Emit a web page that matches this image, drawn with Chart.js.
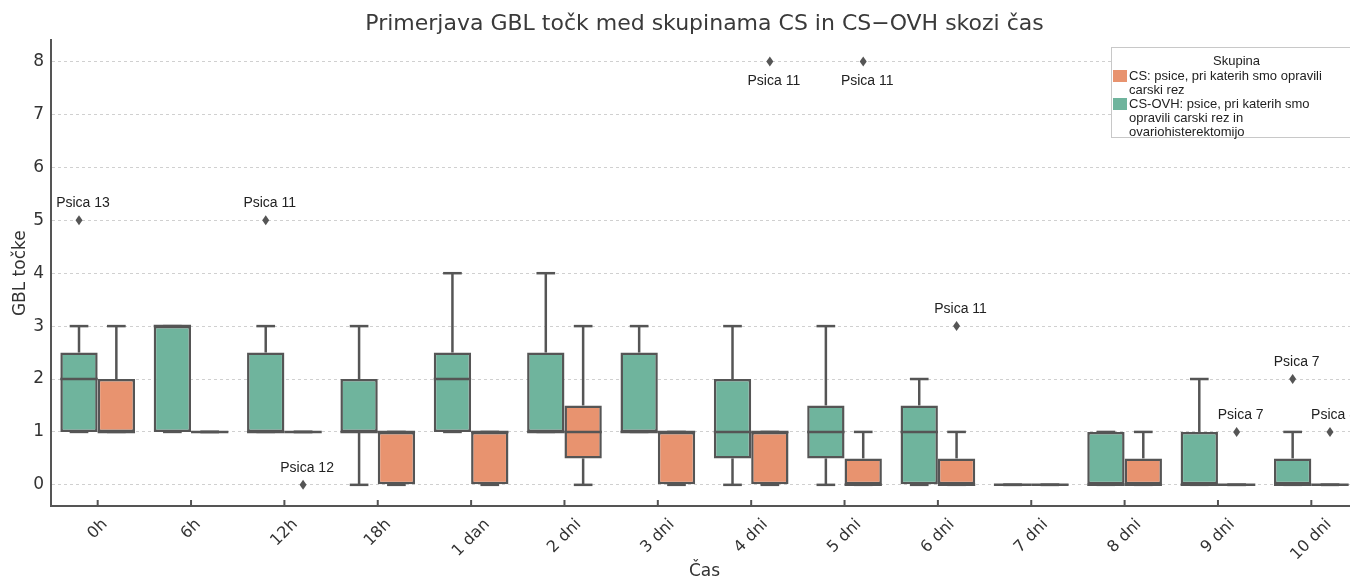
<!DOCTYPE html>
<html>
<head>
<meta charset="utf-8">
<script src="https://cdn.jsdelivr.net/npm/chart.js@4.4.0/dist/chart.umd.min.js"></script>
<style>
  html, body { margin: 0; padding: 0; background: #fff; overflow: hidden; }
  #wrap { position: relative; width: 1360px; height: 580px; }
  #legend {
    position: absolute; left: 1111px; top: 47px; width: 250px; height: 91px;
    border: 1px solid #c8c8c8; background: #fff; box-sizing: border-box;
    font-family: "Liberation Sans", Arial, sans-serif; font-size: 13px; line-height: 14px; color: #222;
    padding: 6px 0 0 1px;
  }
  #legend .ltitle { text-align: center; margin-bottom: 1px; }
  #legend .item { display: flex; align-items: flex-start; }
  #legend .sw { width: 14px; height: 12px; flex: none; margin: 1px 2px 0 0; }
  #legend .txt { width: 196px; }
</style>
</head>
<body>
<div id="wrap">
  <canvas id="chart" width="1360" height="580"></canvas>
  <div id="legend"></div>
</div>
<script>
const categories = ["0h", "6h", "12h", "18h", "1 dan", "2 dni", "3 dni", "4 dni", "5 dni", "6 dni", "7 dni", "8 dni", "9 dni", "10 dni"];
const yTicks = [0, 1, 2, 3, 4, 5, 6, 7, 8];

// CS-OVH (zelena)
const ovhMin = [1, 1, 1, 0, 1, 1, 1, 0, 0, 0, 0, 0, 0, 0];
const ovhQ1 = [1, 1, 1, 1, 1, 1, 1, 0.5, 0.5, 0, 0, 0, 0, 0];
const ovhMedian = [2, 3, 1, 1, 2, 1, 1, 1, 1, 1, 0, 0, 0, 0];
const ovhQ3 = [2.5, 3, 2.5, 2, 2.5, 2.5, 2.5, 2, 1.5, 1.5, 0, 1, 1, 0.5];
const ovhMax = [3, 3, 3, 3, 4, 4, 3, 3, 3, 2, 0, 1, 2, 1];

// CS (oranžna)
const csMin = [1, 1, 1, 0, 0, 0, 0, 0, 0, 0, 0, 0, 0, 0];
const csQ1 = [1, 1, 1, 0, 0, 0.5, 0, 0, 0, 0, 0, 0, 0, 0];
const csMedian = [1, 1, 1, 1, 1, 1, 1, 1, 0, 0, 0, 0, 0, 0];
const csQ3 = [2, 1, 1, 1, 1, 1.5, 1, 1, 0.5, 0.5, 0, 0.5, 0, 0];
const csMax = [3, 1, 1, 1, 1, 3, 1, 1, 1, 1, 0, 1, 0, 0];

// izstopajoče vrednosti (0 = CS-OVH, 1 = CS)
const outlierSeries = [0, 0, 1, 1, 1, 1, 1, 0, 1];
const outlierCategory = ["0h", "12h", "12h", "4 dni", "5 dni", "6 dni", "9 dni", "10 dni", "10 dni"];
const outlierValue = [5, 5, 0, 8, 8, 3, 1, 2, 1];
const outlierLabel = ["Psica 13", "Psica 11", "Psica 12", "Psica 11", "Psica 11", "Psica 11", "Psica 7", "Psica 7", "Psica 8"];

const seriesNames = ["CS-OVH: psice, pri katerih smo opravili carski rez in ovariohisterektomijo", "CS: psice, pri katerih smo opravili carski rez"];
const GREEN = "#6fb49d";
const ORANGE = "#e8936f";
const LINE = "#555555";

const stats = [
  { min: ovhMin, q1: ovhQ1, med: ovhMedian, q3: ovhQ3, max: ovhMax },
  { min: csMin, q1: csQ1, med: csMedian, q3: csQ3, max: csMax },
];

function renderLegend() {
  const box = document.getElementById("legend");
  box.innerHTML = '<div class="ltitle">Skupina</div>';
  [1, 0].forEach((s) => {
    const item = document.createElement("div");
    item.className = "item";
    item.innerHTML = `<span class="sw" style="background:${s ? ORANGE : GREEN}"></span><span class="txt">${seriesNames[s]}</span>`;
    box.appendChild(item);
  });
}

const boxDetails = {
  id: "boxDetails",
  afterDatasetsDraw(chart) {
    const ctx = chart.ctx;
    const yS = chart.scales.y;
    const xS = chart.scales.x;
    const line = (x1, y1, x2, y2) => {
      ctx.beginPath();
      ctx.moveTo(x1, y1);
      ctx.lineTo(x2, y2);
      ctx.stroke();
    };
    ctx.save();
    ctx.strokeStyle = LINE;
    ctx.lineWidth = 2.5;
    stats.forEach((s, d) => {
      chart.getDatasetMeta(d).data.forEach((bar, i) => {
        const cx = bar.x;
        const half = bar.width / 2;
        const cap = bar.width / 4;
        const yMin = yS.getPixelForValue(s.min[i]);
        const yMax = yS.getPixelForValue(s.max[i]);
        line(cx, yS.getPixelForValue(s.q3[i]), cx, yMax);
        line(cx, yS.getPixelForValue(s.q1[i]), cx, yMin);
        line(cx - cap, yMax, cx + cap, yMax);
        line(cx - cap, yMin, cx + cap, yMin);
        const yMed = yS.getPixelForValue(s.med[i]);
        line(cx - half, yMed, cx + half, yMed);
      });
    });

    // izstopajoče vrednosti
    ctx.font = '14px "Liberation Sans", Arial, sans-serif';
    ctx.textAlign = "center";
    ctx.textBaseline = "middle";
    outlierValue.forEach((v, k) => {
      const i = categories.indexOf(outlierCategory[k]);
      const bar = chart.getDatasetMeta(outlierSeries[k]).data[i];
      const px = bar.x;
      const py = yS.getPixelForValue(v);
      ctx.fillStyle = LINE;
      ctx.beginPath();
      ctx.moveTo(px, py - 5);
      ctx.lineTo(px + 3.5, py);
      ctx.lineTo(px, py + 5);
      ctx.lineTo(px - 3.5, py);
      ctx.closePath();
      ctx.fill();
      ctx.fillStyle = "#222";
      ctx.fillText(outlierLabel[k], px + 4, v >= 8 ? py + 20 : py - 17);
    });

    // oznake in kratke črtice na osi x
    const bottom = chart.chartArea.bottom;
    ctx.lineWidth = 2;
    ctx.font = '16px "DejaVu Sans", sans-serif';
    ctx.fillStyle = "#333";
    categories.forEach((c, i) => {
      const px = xS.getPixelForValue(i);
      line(px, bottom - 6, px, bottom);
      const w = ctx.measureText(c).width;
      const cy = bottom + 11 + (w + 14) * 0.7071 / 2;
      ctx.save();
      ctx.translate(px, cy);
      ctx.rotate(-Math.PI / 4);
      ctx.fillText(c, 0, 0);
      ctx.restore();
    });
    ctx.restore();
  },
};

function renderChart() {
  const ctx = document.getElementById("chart");
  new Chart(ctx, {
    type: "bar",
    data: {
      labels: categories,
      datasets: stats.map((s, d) => ({
        label: seriesNames[d],
        data: s.q1.map((v, i) => [v, s.q3[i]]),
        backgroundColor: d ? ORANGE : GREEN,
        borderColor: LINE,
        borderWidth: 2.5,
        borderSkipped: false,
        categoryPercentage: 0.8,
        barPercentage: 1.0,
      })),
    },
    options: {
      responsive: false,
      animation: false,
      events: [],
      layout: { padding: { left: 0, right: 2, top: 0, bottom: 0 } },
      plugins: {
        legend: { display: false },
        tooltip: { enabled: false },
        title: {
          display: true,
          fullSize: false,
          text: "Primerjava GBL točk med skupinama CS in CS\u2212OVH skozi čas",
          color: "#3a3a3a",
          font: { family: "DejaVu Sans", size: 22, weight: "normal" },
          padding: { top: 11, bottom: 3 },
        },
      },
      scales: {
        x: {
          grid: { display: false },
          border: { display: true, color: LINE, width: 2 },
          ticks: { display: false },
          title: {
            display: true,
            text: "Čas",
            color: "#333",
            font: { family: "DejaVu Sans", size: 17, lineHeight: 1.0 },
            padding: { top: 0, bottom: 0 },
          },
          afterFit: (scale) => { scale.height = 74; },
        },
        y: {
          min: -0.4,
          max: 8.4,
          afterBuildTicks: (scale) => { scale.ticks = yTicks.map((v) => ({ value: v })); },
          grid: { color: "#d0d0d0", lineWidth: 1, drawTicks: false },
          border: { display: true, color: LINE, width: 2, dash: [3, 3] },
          ticks: {
            color: "#333",
            padding: 7,
            font: { family: "DejaVu Sans", size: 17 },
          },
          title: {
            display: true,
            text: "GBL točke",
            color: "#333",
            font: { family: "DejaVu Sans", size: 17 },
            padding: { top: 10, bottom: 0 },
          },
          afterFit: (scale) => { scale.width = 51; },
        },
      },
    },
    plugins: [boxDetails],
  });
}

renderLegend();
renderChart();
</script>
</body>
</html>
